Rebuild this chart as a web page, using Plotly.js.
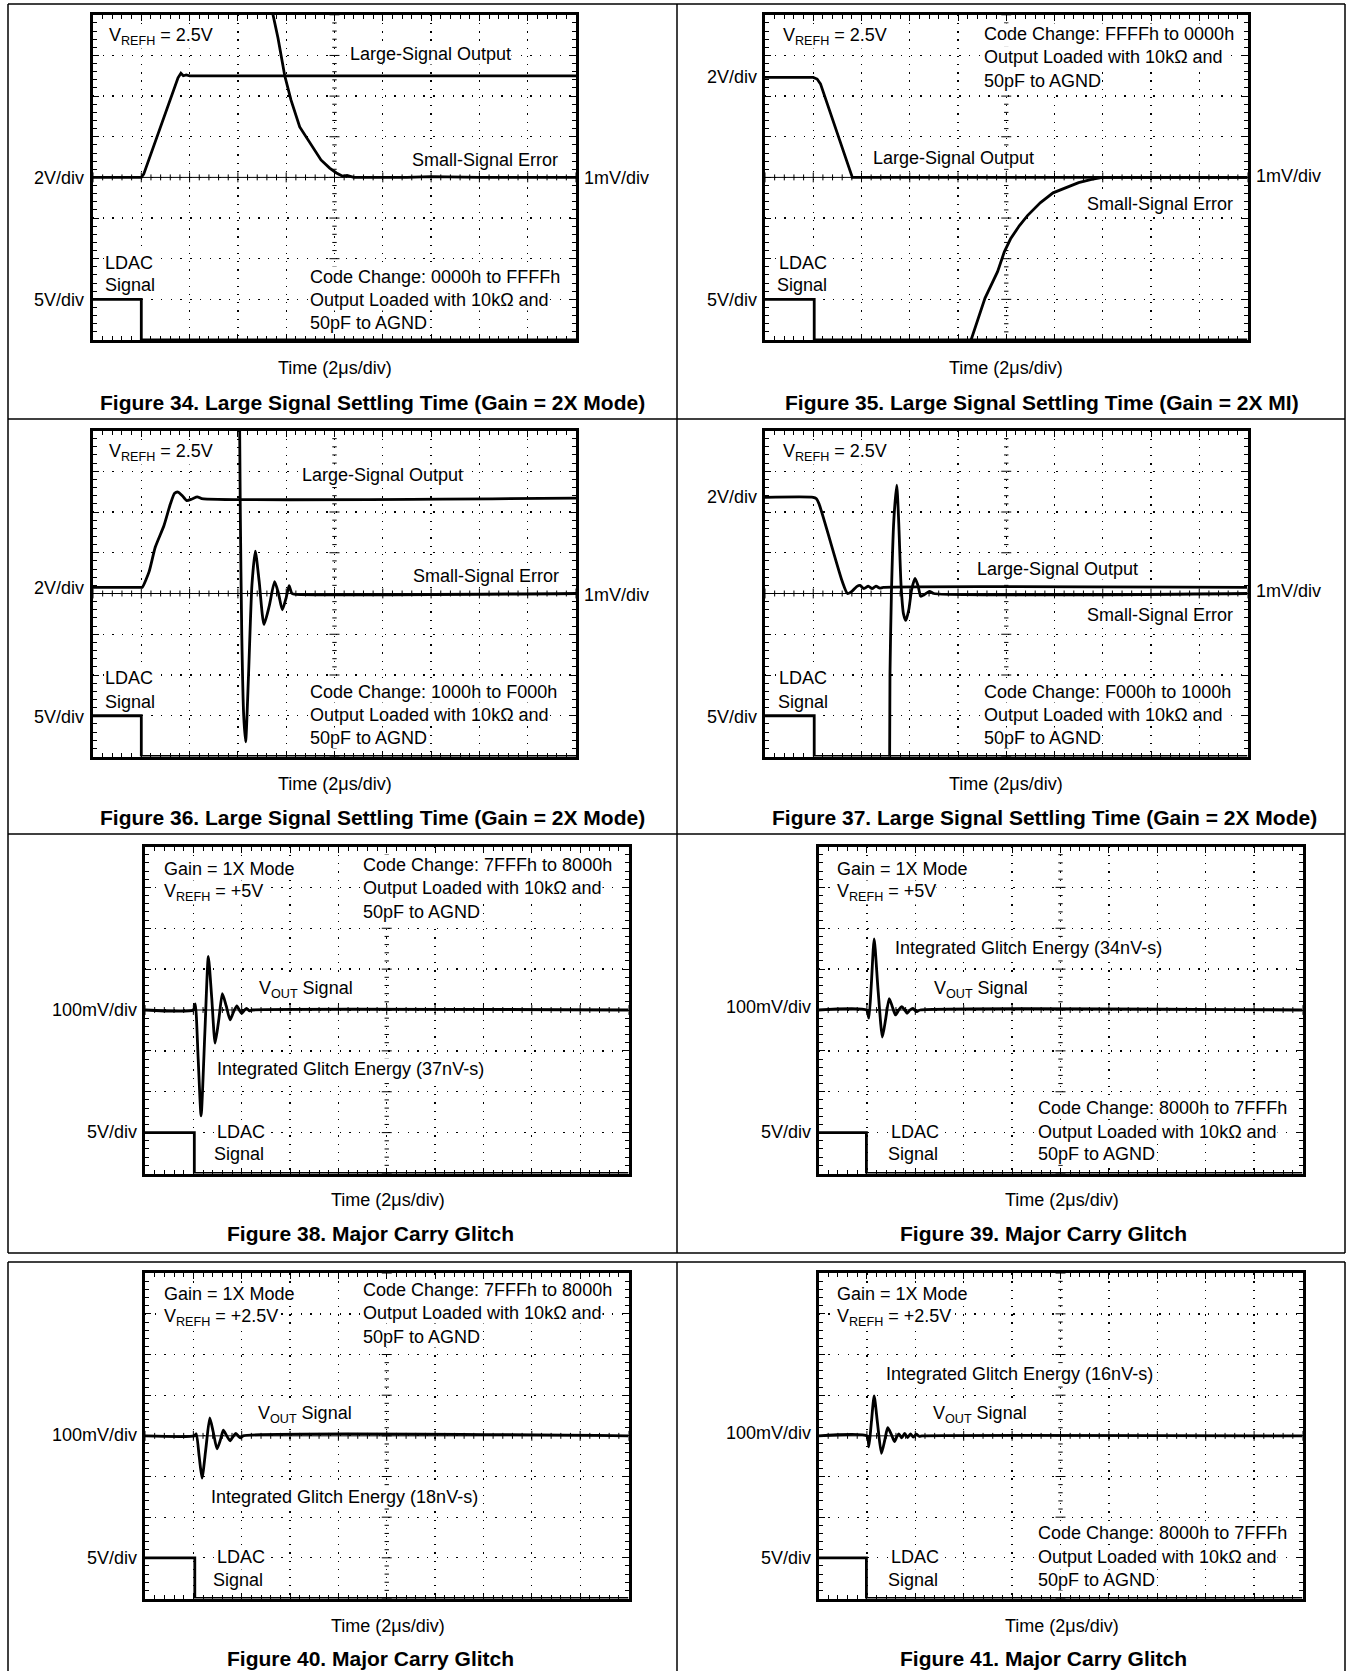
<!DOCTYPE html>
<html><head><meta charset="utf-8">
<script src="https://cdn.plot.ly/plotly-3.0.1.min.js"></script>
<style>body{margin:0;background:#fff}#chart{width:1349px;height:1671px}</style>
</head><body><div id="chart"></div>
<script>
// ---------- DATA (time in divisions of 2us, level in divisions from bottom) ----------
// Figure 34
const f34_ldac_t = [0, 1.0, 1.0, 10];
const f34_ldac_v = [1, 1, 0, 0];
const f34_large_t = [0, 1.0, 1.05, 1.76, 1.82, 1.87, 1.93, 2.0, 10];
const f34_large_v = [4.0, 4.0, 4.08, 6.45, 6.56, 6.5, 6.52, 6.5, 6.5];
const f34_small_t = [3.6, 3.73, 3.83, 3.97, 4.10, 4.28, 4.41, 4.55, 4.72, 4.90, 5.04, 5.17, 5.26, 5.4, 6.5, 7.0, 8.0, 10];
const f34_small_v = [8.7, 8.0, 7.43, 6.5, 5.9, 5.24, 5.0, 4.72, 4.43, 4.23, 4.11, 4.03, 4.05, 4.0, 4.0, 4.02, 4.0, 4.0];
// Figure 35
const f35_ldac_t = [0, 1.02, 1.02, 10];
const f35_ldac_v = [1, 1, 0, 0];
const f35_large_t = [0, 1.0, 1.08, 1.15, 1.81, 10];
const f35_large_v = [6.46, 6.46, 6.42, 6.3, 4.0, 4.0];
const f35_small_t = [4.13, 4.27, 4.56, 4.82, 4.96, 5.09, 5.27, 5.44, 5.71, 5.97, 6.24, 6.5, 6.77, 6.99, 10];
const f35_small_v = [-0.5, 0, 1.03, 1.68, 2.17, 2.49, 2.81, 3.06, 3.38, 3.62, 3.75, 3.87, 3.95, 4.0, 4.0];
// Figure 36
const f36_ldac_t = [0, 1.0, 1.0, 10];
const f36_ldac_v = [1, 1, 0, 0];
const f36_large_t = [0, 1.0, 1.02, 1.16, 1.29, 1.47, 1.60, 1.69, 1.76, 1.85, 1.94, 2.05, 2.16, 2.25, 10];
const f36_large_v = [4.15, 4.15, 4.15, 4.53, 5.14, 5.67, 6.19, 6.46, 6.49, 6.40, 6.28, 6.32, 6.37, 6.33, 6.34];
const f36_small_t = [3.03, 3.05, 3.08, 3.12, 3.16, 3.22, 3.29, 3.36, 3.44, 3.54, 3.65, 3.76, 3.84, 3.92, 4.0, 4.06, 4.12, 4.2, 10];
const f36_small_v = [9.0, 6.0, 3.0, 1.0, 0.36, 2.0, 4.2, 5.04, 4.3, 3.24, 3.7, 4.29, 4.0, 3.60, 3.9, 4.19, 4.0, 3.98, 4.0];
// Figure 37
const f37_ldac_t = [0, 1.02, 1.02, 10];
const f37_ldac_v = [1, 1, 0, 0];
const f37_large_t = [0, 1.0, 1.06, 1.12, 1.6, 1.71, 1.8, 1.9, 1.97, 2.05, 2.14, 2.22, 2.3, 2.38, 2.45, 10];
const f37_large_v = [6.36, 6.36, 6.33, 6.2, 4.3, 4.0, 4.05, 4.17, 4.2, 4.12, 4.18, 4.12, 4.18, 4.13, 4.15, 4.15];
const f37_small_t = [2.58, 2.59, 2.62, 2.67, 2.73, 2.77, 2.82, 2.87, 2.92, 2.98, 3.04, 3.11, 3.17, 3.23, 3.3, 3.41, 3.5, 10];
const f37_small_v = [-1, 2.0, 4.0, 5.8, 6.66, 5.8, 4.2, 3.5, 3.34, 3.6, 4.1, 4.37, 4.2, 3.93, 3.97, 4.05, 4.0, 4.0];
// Figure 38
const f38_ldac_t = [0, 1.02, 1.02, 10];
const f38_ldac_v = [1, 1, 0, 0];
const f38_vout_t = [0, 1.0, 1.04, 1.1, 1.16, 1.24, 1.31, 1.38, 1.45, 1.53, 1.60, 1.68, 1.76, 1.83, 1.90, 1.95, 2.0, 2.06, 2.1, 2.16, 2.22, 10];
const f38_vout_v = [4.0, 4.0, 4.15, 2.8, 1.41, 3.5, 5.31, 4.3, 3.19, 3.8, 4.4, 4.1, 3.76, 3.95, 4.1, 4.0, 3.92, 4.0, 4.04, 3.98, 4.0, 4.0];
// Figure 39
const f39_ldac_t = [0, 0.99, 0.99, 10];
const f39_ldac_v = [1, 1, 0, 0];
const f39_vout_t = [0, 0.99, 1.04, 1.09, 1.15, 1.23, 1.32, 1.39, 1.46, 1.52, 1.59, 1.66, 1.72, 1.78, 1.83, 1.89, 1.95, 2.02, 2.1, 10];
const f39_vout_v = [4.0, 4.0, 3.8, 4.6, 5.74, 4.5, 3.34, 3.8, 4.28, 4.1, 3.88, 4.0, 4.08, 4.0, 3.92, 4.0, 4.04, 3.96, 4.0, 4.0];
// Figure 40
const f40_ldac_t = [0, 1.03, 1.03, 10];
const f40_ldac_v = [1, 1, 0, 0];
const f40_vout_t = [0, 1.02, 1.06, 1.12, 1.18, 1.26, 1.34, 1.41, 1.49, 1.56, 1.62, 1.69, 1.76, 1.82, 1.88, 1.94, 1.98, 2.03, 10];
const f40_vout_v = [4.0, 4.0, 4.05, 3.5, 2.96, 3.7, 4.44, 4.1, 3.68, 3.9, 4.14, 4.0, 3.88, 3.98, 4.06, 3.98, 3.95, 4.0, 4.0];
// Figure 41
const f41_ldac_t = [0, 0.99, 0.99, 10];
const f41_ldac_v = [1, 1, 0, 0];
const f41_vout_t = [0, 1.0, 1.04, 1.09, 1.15, 1.22, 1.30, 1.37, 1.43, 1.50, 1.57, 1.62, 1.66, 1.72, 1.78, 1.84, 1.9, 1.96, 2.02, 2.08, 2.14, 10];
const f41_vout_v = [4.0, 4.0, 3.73, 4.3, 4.98, 4.3, 3.57, 3.9, 4.2, 4.05, 3.86, 3.98, 4.05, 3.95, 4.06, 3.96, 4.05, 3.97, 4.04, 3.99, 4.0, 4.0];

// ---------- LAYOUT GEOMETRY ----------
const W = 1349, H = 1671;
const FONT = 'Liberation Sans, Arial, Helvetica, sans-serif';
const panels = [
  {box:[91.5, 13.3, 577.5, 341.5], series:[[f34_ldac_t,f34_ldac_v,'linear'],[f34_large_t,f34_large_v,'linear'],[f34_small_t,f34_small_v,'linear']]},
  {box:[763.5, 13.3, 1249, 341.5], series:[[f35_ldac_t,f35_ldac_v,'linear'],[f35_large_t,f35_large_v,'linear'],[f35_small_t,f35_small_v,'linear']]},
  {box:[91.5, 429, 577.5, 758], series:[[f36_ldac_t,f36_ldac_v,'linear'],[f36_large_t,f36_large_v,'spline'],[f36_small_t,f36_small_v,'spline']]},
  {box:[763.5, 429, 1249, 758], series:[[f37_ldac_t,f37_ldac_v,'linear'],[f37_large_t,f37_large_v,'spline'],[f37_small_t,f37_small_v,'spline']]},
  {box:[143.5, 845, 630, 1175], series:[[f38_ldac_t,f38_ldac_v,'linear'],[f38_vout_t,f38_vout_v,'spline']]},
  {box:[817, 845, 1304, 1175], series:[[f39_ldac_t,f39_ldac_v,'linear'],[f39_vout_t,f39_vout_v,'spline']]},
  {box:[143.5, 1271.7, 630, 1600], series:[[f40_ldac_t,f40_ldac_v,'linear'],[f40_vout_t,f40_vout_v,'spline']]},
  {box:[817, 1271.7, 1304, 1600], series:[[f41_ldac_t,f41_ldac_v,'linear'],[f41_vout_t,f41_vout_v,'spline']]}
];

const traces = [];
const layout = {
  width: W, height: H, margin:{l:0,r:0,t:0,b:0},
  paper_bgcolor:'#fff', plot_bgcolor:'#fff', showlegend:false,
  hovermode:false, annotations:[], shapes:[]
};

panels.forEach((p, i) => {
  const n = i === 0 ? '' : String(i + 1);
  const [L, T, R, B] = p.box;
  const inset = 1.5;
  const bw = R - L, bh = B - T;
  const periodX = (bw / 10) / 5, periodY = (bh / 8) / 5;
  const common = {
    showgrid:true, gridcolor:'#000', gridwidth:1.3,
    ticks:'inside', ticklen:6, tickwidth:1, tickcolor:'#000',
    showline:true, linewidth:3, linecolor:'#000', mirror:'ticks',
    showticklabels:false, zeroline:false, fixedrange:true,
    minor:{ticks:'inside', ticklen:4, tickwidth:1, tickcolor:'#000', dtick:0.2, showgrid:false}
  };
  layout['xaxis' + n] = Object.assign({}, common, {
    domain:[(L + inset) / W, (R - inset) / W], anchor:'y' + n,
    range:[0, 10], dtick:1, tick0:0,
    griddash: '1.3px,' + (periodY - 1.3).toFixed(2) + 'px'
  });
  layout['yaxis' + n] = Object.assign({}, common, {
    domain:[1 - (B - inset) / H, 1 - (T + inset) / H], anchor:'x' + n,
    range:[0, 8], dtick:1, tick0:0,
    griddash: '1.3px,' + (periodX - 1.3).toFixed(2) + 'px'
  });
  // graticule center cross with small ticks
  const gx = [], gy = [];
  const hv = 3 / (bh / 8), hvM = 5 / (bh / 8);
  const hh = 2.2 / (bw / 10), hhM = 5 / (bw / 10);
  for (let k = 0; k <= 50; k++) {
    const x = k * 0.2, h = (k % 5 === 0) ? hvM : hv;
    gx.push(x, x, null); gy.push(4 - h, 4 + h, null);
  }
  for (let k = 0; k <= 40; k++) {
    const y = k * 0.2, h = (k % 5 === 0) ? hhM : hh;
    gx.push(5 - h, 5 + h, null); gy.push(y, y, null);
  }
  gx.push(0, 10); gy.push(4, 4);
  traces.push({x:gx, y:gy, xaxis:'x' + n, yaxis:'y' + n, mode:'lines',
    line:{color:'#000', width:1}, hoverinfo:'skip'});
  p.series.forEach(s => {
    traces.push({x:s[0], y:s[1], xaxis:'x' + n, yaxis:'y' + n, mode:'lines',
      line:{color:'#000', width:2.8, shape:s[2], smoothing:0.6}, hoverinfo:'skip'});
  });
});

// ---------- TEXT ----------
function T(text, x, y, xa, opts) {
  opts = opts || {};
  layout.annotations.push({
    text: text, x: x / W, y: 1 - y / H, xref:'paper', yref:'paper',
    xanchor: xa || 'left', yanchor:'middle', showarrow:false,
    font:{family:FONT, size: opts.size || 18, color:'#000'},
    bgcolor: '#fff', borderpad:0
  });
}
const CAP = (s) => '<b>' + s + '</b>';

// Fig 34
T('V<sub>REFH</sub> = 2.5V', 108, 37);
T('Large-Signal Output', 349, 54);
T('Small-Signal Error', 411, 160);
T('2V/div', 85, 178, 'right');
T('1mV/div', 583, 178);
T('LDAC', 104, 263);
T('Signal', 104, 285);
T('5V/div', 85, 300, 'right');
T('Code Change: 0000h to FFFFh', 309, 277);
T('Output Loaded with 10kΩ and', 309, 300);
T('50pF to AGND', 309, 323);
T('Time (2μs/div)', 335, 368, 'center');
T(CAP('Figure 34. Large Signal Settling Time (Gain = 2X Mode)'), 372, 402, 'center', {size:21});
// Fig 35
T('V<sub>REFH</sub> = 2.5V', 782.5, 37);
T('Code Change: FFFFh to 0000h', 983, 34);
T('Output Loaded with 10kΩ and', 983, 57.5);
T('50pF to AGND', 983, 81);
T('2V/div', 757.5, 77, 'right');
T('Large-Signal Output', 872, 158);
T('1mV/div', 1255, 176);
T('Small-Signal Error', 1086, 204);
T('LDAC', 778, 263);
T('Signal', 776, 285);
T('5V/div', 757.5, 300, 'right');
T('Time (2μs/div)', 1006, 368, 'center');
T(CAP('Figure 35. Large Signal Settling Time (Gain = 2X MI)'), 1042, 402, 'center', {size:21});
// Fig 36
T('V<sub>REFH</sub> = 2.5V', 108, 452);
T('Large-Signal Output', 301, 475);
T('Small-Signal Error', 412, 576);
T('2V/div', 85, 588, 'right');
T('1mV/div', 583, 595);
T('LDAC', 104, 678);
T('Signal', 104, 702);
T('5V/div', 85, 717, 'right');
T('Code Change: 1000h to F000h', 309, 692);
T('Output Loaded with 10kΩ and', 309, 715);
T('50pF to AGND', 309, 738);
T('Time (2μs/div)', 335, 784, 'center');
T(CAP('Figure 36. Large Signal Settling Time (Gain = 2X Mode)'), 372, 817, 'center', {size:21});
// Fig 37
T('V<sub>REFH</sub> = 2.5V', 782.5, 452);
T('2V/div', 757.5, 497, 'right');
T('Large-Signal Output', 976, 569);
T('1mV/div', 1255, 591);
T('Small-Signal Error', 1086, 615);
T('LDAC', 778, 678);
T('Signal', 777, 702);
T('5V/div', 757.5, 717, 'right');
T('Code Change: F000h to 1000h', 983, 692);
T('Output Loaded with 10kΩ and', 983, 715);
T('50pF to AGND', 983, 738);
T('Time (2μs/div)', 1006, 784, 'center');
T(CAP('Figure 37. Large Signal Settling Time (Gain = 2X Mode)'), 1044, 817, 'center', {size:21});
// Fig 38
T('Gain = 1X Mode', 162.6, 869);
T('V<sub>REFH</sub> = +5V', 162.6, 892);
T('Code Change: 7FFFh to 8000h', 362, 865);
T('Output Loaded with 10kΩ and', 362, 888);
T('50pF to AGND', 362, 912);
T('V<sub>OUT</sub> Signal', 258, 989);
T('Integrated Glitch Energy (37nV-s)', 216, 1069);
T('LDAC', 215.5, 1132);
T('Signal', 213, 1154);
T('100mV/div', 138, 1010, 'right');
T('5V/div', 138, 1132, 'right');
T('Time (2μs/div)', 388, 1200, 'center');
T(CAP('Figure 38. Major Carry Glitch'), 370, 1233, 'center', {size:21});
// Fig 39
T('Gain = 1X Mode', 836, 869);
T('V<sub>REFH</sub> = +5V', 836, 892);
T('Integrated Glitch Energy (34nV-s)', 894, 948);
T('V<sub>OUT</sub> Signal', 933, 989);
T('Code Change: 8000h to 7FFFh', 1037, 1108);
T('Output Loaded with 10kΩ and', 1037, 1132);
T('50pF to AGND', 1037, 1154);
T('LDAC', 889.7, 1132);
T('Signal', 886.6, 1154);
T('100mV/div', 811.6, 1007, 'right');
T('5V/div', 811.6, 1132, 'right');
T('Time (2μs/div)', 1062, 1200, 'center');
T(CAP('Figure 39. Major Carry Glitch'), 1043, 1233, 'center', {size:21});
// Fig 40
T('Gain = 1X Mode', 162.6, 1294);
T('V<sub>REFH</sub> = +2.5V', 162.6, 1317);
T('Code Change: 7FFFh to 8000h', 362, 1290);
T('Output Loaded with 10kΩ and', 362, 1313);
T('50pF to AGND', 362, 1337);
T('V<sub>OUT</sub> Signal', 257, 1414);
T('Integrated Glitch Energy (18nV-s)', 210, 1497);
T('LDAC', 215.5, 1557);
T('Signal', 212.5, 1580);
T('100mV/div', 138, 1435, 'right');
T('5V/div', 138, 1558, 'right');
T('Time (2μs/div)', 388, 1626, 'center');
T(CAP('Figure 40. Major Carry Glitch'), 370, 1658, 'center', {size:21});
// Fig 41
T('Gain = 1X Mode', 836, 1294);
T('V<sub>REFH</sub> = +2.5V', 836, 1317);
T('Integrated Glitch Energy (16nV-s)', 885, 1374);
T('V<sub>OUT</sub> Signal', 932, 1414);
T('Code Change: 8000h to 7FFFh', 1037, 1533);
T('Output Loaded with 10kΩ and', 1037, 1557);
T('50pF to AGND', 1037, 1580);
T('LDAC', 889.7, 1557);
T('Signal', 886.6, 1580);
T('100mV/div', 811.6, 1433, 'right');
T('5V/div', 811.6, 1558, 'right');
T('Time (2μs/div)', 1062, 1626, 'center');
T(CAP('Figure 41. Major Carry Glitch'), 1043, 1658, 'center', {size:21});

// ---------- TABLE BORDERS ----------
function line(x0, y0, x1, y1) {
  layout.shapes.push({type:'line', xref:'paper', yref:'paper',
    x0:x0 / W, y0:1 - y0 / H, x1:x1 / W, y1:1 - y1 / H,
    line:{color:'#000', width:1.5}});
}
const TL = 8, TR = 1345;
line(TL, 4, TR, 4); line(TL, 419, TR, 419); line(TL, 834, TR, 834); line(TL, 1253, TR, 1253);
line(TL, 4, TL, 1253); line(TR, 4, TR, 1253); line(677, 4, 677, 1253);
line(TL, 1262, TR, 1262); line(TL, 1262, TL, 1671); line(TR, 1262, TR, 1671); line(677, 1262, 677, 1671);

Plotly.newPlot('chart', traces, layout, {staticPlot:true, displayModeBar:false});
</script>
</body></html>
